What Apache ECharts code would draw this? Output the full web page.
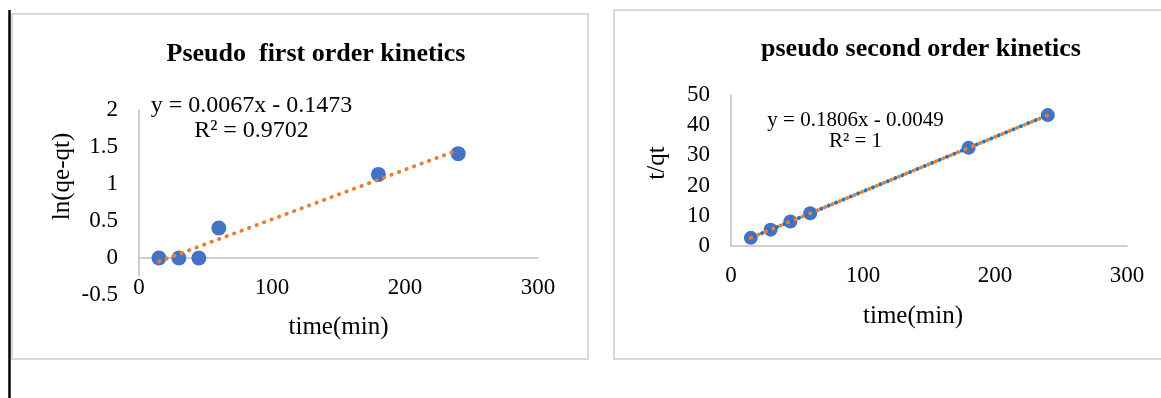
<!DOCTYPE html>
<html>
<head>
<meta charset="utf-8">
<script src="https://cdn.jsdelivr.net/npm/echarts@6/dist/echarts.min.js"></script>
<style>
  html, body { margin: 0; padding: 0; background: #fff; }
  #chart { width: 1161px; height: 398px; }
</style>
</head>
<body>
<div id="chart"></div>
<script>
// Contact time (min) for both kinetic fits
const firstTime = [15, 30, 45, 60, 180, 240];
// ln(qe - qt) for the pseudo first order model
const firstLnQ = [0, 0, 0, 0.405, 1.13, 1.41];
// Linear fit reported for the first order plot
const firstSlope = 0.0067;
const firstIntercept = -0.1473;
const firstR2 = '0.9702';

const secondTime = [15, 30, 45, 60, 180, 240];
// t/qt for the pseudo second order model
const secondTq = [2.70, 5.41, 8.12, 10.83, 32.50, 43.34];
const secondSlope = 0.1806;
const secondIntercept = -0.0049;
const secondR2 = '1';

// Axis ranges
const timeAxis = { min: 0, max: 300, interval: 100 };
const lnAxis = { min: -0.5, max: 2, interval: 0.5 };
const tqAxis = { min: 0, max: 50, interval: 10 };

const FONT = '"Liberation Serif", "Times New Roman", serif';
const BLUE = '#4472C4';
const ORANGE = '#ED7D31';
const AXIS_GREY = '#bfbfbf';

function fitLine(xs, slope, intercept) {
  const a = xs[0], b = xs[xs.length - 1];
  return [[a, slope * a + intercept], [b, slope * b + intercept]];
}
function pairs(xs, ys) { return xs.map((x, i) => [x, ys[i]]); }

function valueX(gridIndex, labelMargin, nameGap, namePad) {
  return {
    type: 'value', gridIndex, min: timeAxis.min, max: timeAxis.max, interval: timeAxis.interval,
    z: 1,
    name: 'time(min)', nameLocation: 'middle', nameGap,
    nameTextStyle: { fontFamily: FONT, fontSize: 25, color: '#000', padding: namePad },
    axisLine: { onZero: true, lineStyle: { color: AXIS_GREY, width: 1.5 } },
    axisTick: { show: false },
    splitLine: { show: false },
    axisLabel: { fontFamily: FONT, fontSize: 23, color: '#000', margin: labelMargin,
                 backgroundColor: '#fff', padding: [0, 1] }
  };
}
function valueY(gridIndex, range, name, nameGap, namePad) {
  return {
    type: 'value', gridIndex, min: range.min, max: range.max, interval: range.interval,
    name, nameLocation: 'middle', nameGap, nameRotate: 90,
    nameTextStyle: { fontFamily: FONT, fontSize: 25, color: '#000', padding: namePad },
    axisLine: { show: true, onZero: false, lineStyle: { color: AXIS_GREY, width: 1.5 } },
    axisTick: { show: false },
    splitLine: { show: false },
    axisLabel: { fontFamily: FONT, fontSize: 23, color: '#000', margin: 21 }
  };
}

const chart = echarts.init(document.getElementById('chart'), null, { renderer: 'canvas' });

chart.setOption({
  animation: false,
  backgroundColor: '#fff',
  title: [
    { text: 'Pseudo  first order kinetics', left: 311, top: 36, textAlign: 'center',
      textStyle: { fontFamily: FONT, fontSize: 26, fontWeight: 'bold', color: '#000' } },
    { text: 'pseudo second order kinetics', left: 916, top: 31, textAlign: 'center',
      textStyle: { fontFamily: FONT, fontSize: 26, fontWeight: 'bold', color: '#000' } }
  ],
  grid: [
    { left: 139, top: 110, width: 399, height: 185 },
    { left: 731, top: 95, width: 396, height: 151 }
  ],
  xAxis: [
    valueX(0, -19, 20, [0, 0, 0, 0]),
    valueX(1, 18, 58, [0, 32, 0, 0])
  ],
  yAxis: [
    valueY(0, lnAxis, 'ln(qe-qt)', 64, [0, 0, 0, 52]),
    valueY(1, tqAxis, 't/qt', 61, [0, 0, 0, 15])
  ],
  series: [
    { type: 'scatter', xAxisIndex: 0, yAxisIndex: 0, z: 2,
      symbolSize: 15, itemStyle: { color: BLUE, opacity: 1 },
      data: pairs(firstTime, firstLnQ) },
    { type: 'line', xAxisIndex: 0, yAxisIndex: 0, z: 3, symbol: 'none', silent: true,
      lineStyle: { color: ORANGE, width: 3.8, type: [0.5, 7.5], cap: 'round' },
      data: fitLine(firstTime, firstSlope, firstIntercept) },
    { type: 'scatter', xAxisIndex: 1, yAxisIndex: 1, z: 2,
      symbolSize: 14, itemStyle: { color: BLUE, opacity: 1 },
      data: pairs(secondTime, secondTq) },
    { type: 'line', xAxisIndex: 1, yAxisIndex: 1, z: 3, symbol: 'none', silent: true,
      lineStyle: { color: '#1F77C8', width: 3.8, type: [0.5, 7.5], cap: 'round', dashOffset: 4 },
      data: fitLine(secondTime, secondSlope, secondIntercept) },
    { type: 'line', xAxisIndex: 1, yAxisIndex: 1, z: 4, symbol: 'none', silent: true,
      lineStyle: { color: ORANGE, width: 3.8, type: [0.5, 7.5], cap: 'round' },
      data: fitLine(secondTime, secondSlope, secondIntercept) }
  ],
  graphic: [
    // page margin rule
    { type: 'line', z: 0, shape: { x1: 9.5, y1: 10, x2: 9.5, y2: 398 },
      style: { stroke: '#000', lineWidth: 2.5 } },
    // chart frames
    { type: 'rect', z: 0, shape: { x: 12, y: 14, width: 576, height: 345 },
      style: { fill: 'none', stroke: '#d9d9d9', lineWidth: 2 } },
    { type: 'rect', z: 0, shape: { x: 614, y: 10, width: 560, height: 349 },
      style: { fill: 'none', stroke: '#d9d9d9', lineWidth: 2 } },
    // fit equations
    { type: 'text', z: 10, x: 251.5, y: 106,
      style: { text: 'y = ' + firstSlope + 'x - ' + Math.abs(firstIntercept), fontFamily: FONT, fontSize: 24,
               fill: '#000', align: 'center', verticalAlign: 'middle' } },
    { type: 'text', z: 10, x: 251.5, y: 131,
      style: { text: 'R\u00b2 = ' + firstR2, fontFamily: FONT, fontSize: 24,
               fill: '#000', align: 'center', verticalAlign: 'middle' } },
    { type: 'text', z: 10, x: 855.5, y: 120,
      style: { text: 'y = ' + secondSlope + 'x - ' + Math.abs(secondIntercept), fontFamily: FONT, fontSize: 21,
               fill: '#000', align: 'center', verticalAlign: 'middle' } },
    { type: 'text', z: 10, x: 855.5, y: 141,
      style: { text: 'R\u00b2 = ' + secondR2, fontFamily: FONT, fontSize: 21,
               fill: '#000', align: 'center', verticalAlign: 'middle' } }
  ]
});
</script>
</body>
</html>
